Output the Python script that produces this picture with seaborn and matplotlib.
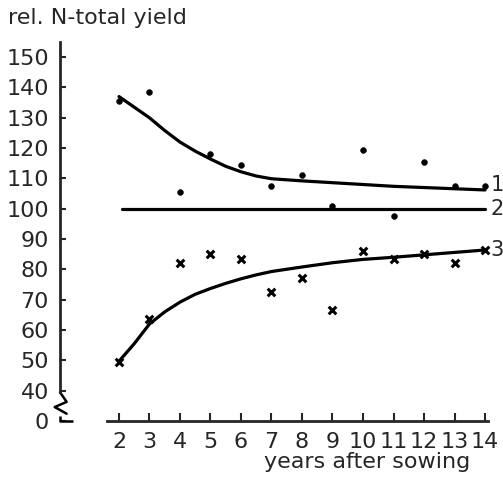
import matplotlib
matplotlib.use("Agg")
import matplotlib.pyplot as plt
import matplotlib.transforms as mtransforms
import numpy as np
import pandas as pd
import seaborn as sns

# ==========================================
# data
# ==========================================
years = [2, 3, 4, 5, 6, 7, 8, 9, 10, 11, 12, 13, 14]
dots_1 = [135.5, 138.5, 105.5, 118, 114.5, 107.5, 111, 101, 119.5, 97.5, 115.5, 107.5, 107.5]
cross_3 = [49.5, 63.5, 82, 85, 83.5, 72.5, 77, 66.5, 86, 83.5, 85, 82, 86.5]

curve_x = [2, 2.5, 3, 3.5, 4, 4.5, 5, 5.5, 6, 6.5, 7, 8, 9, 10, 11, 12, 13, 14]
curve_1 = [137, 133.5, 130, 125.8, 122, 119, 116.4, 114, 112.2, 110.8, 109.9, 109.2,
           108.6, 108, 107.4, 107, 106.6, 106.2]
curve_3 = [49.7, 55.5, 62, 66, 69.2, 71.8, 73.7, 75.4, 76.9, 78.2, 79.3, 80.8,
           82.2, 83.3, 84, 84.8, 85.6, 86.4]
ref_x = [2.1, 14]
ref_2 = [100, 100]

ytick_pos = [30, 40, 50, 60, 70, 80, 90, 100, 110, 120, 130, 140, 150]
ytick_lab = ["0", "40", "50", "60", "70", "80", "90", "100", "110", "120", "130", "140", "150"]
curve_names = ["1", "2", "3"]

# ==========================================
# style
# ==========================================
sns.set_style("ticks")
plt.rcParams['font.family'] = ['DejaVu Sans']
fs = 16

fig = plt.figure(figsize=(5.03, 4.90), dpi=100)
ax = fig.add_axes([60 / 503, 1 - 421 / 490, 443 / 503, (421 - 42) / 490])

df_dots = pd.DataFrame({"year": years, "val": dots_1})
df_cross = pd.DataFrame({"year": years, "val": cross_3})
df_c1 = pd.DataFrame({"year": curve_x, "val": curve_1})
df_c3 = pd.DataFrame({"year": curve_x, "val": curve_3})
df_ref = pd.DataFrame({"year": ref_x, "val": ref_2})

lw = 2.3
sns.lineplot(data=df_c1, x="year", y="val", color="black", lw=lw, ax=ax)
sns.lineplot(data=df_c3, x="year", y="val", color="black", lw=lw, ax=ax)
sns.lineplot(data=df_ref, x="year", y="val", color="black", lw=lw, ax=ax)
sns.scatterplot(data=df_dots, x="year", y="val", color="black", marker="o", s=18,
                edgecolor="black", ax=ax)
sns.scatterplot(data=df_cross, x="year", y="val", color="black", marker="x", s=30,
                linewidth=2.2, ax=ax)

# curve labels at right end
for name, yv in zip(curve_names, [curve_1[-1] + 1.5, ref_2[-1], curve_3[-1]]):
    ax.text(14.18, yv, name, fontsize=15, ha="left", va="center", clip_on=False)

ax.set_xlim(0.066, 14.59)
ax.set_ylim(30, 155)
ax.set_xticks(years)
ax.set_xticklabels([str(y) for y in years], fontsize=fs)
ax.set_yticks(ytick_pos)
ax.set_yticklabels(ytick_lab, fontsize=fs)
ax.tick_params(axis="y", direction="in", length=4, width=1.5, pad=8)
ax.tick_params(axis="x", direction="in", length=6, width=1.5, pad=8)
ax.set_xlabel("")
ax.set_ylabel("")

sns.despine(ax=ax)
ax.spines["left"].set_linewidth(2)
ax.spines["bottom"].set_linewidth(2)
ax.spines["left"].set_bounds(39.5, 155)
ax.spines["bottom"].set_bounds(1.6, 14.1)

# axis break on the y axis
tr = mtransforms.blended_transform_factory(ax.transAxes, ax.transData)
ax.plot([0.0, 0.015, -0.012, 0.015], [39.5, 36.3, 34.6, 32.4], color="black",
        lw=1.8, transform=tr, clip_on=False)
ax.plot([0.0, 0.0, 0.03], [31.5, 30, 30], color="black", lw=1.8,
        transform=tr, clip_on=False, solid_capstyle="butt")

fig.text(8 / 503, 1 - 18 / 490, "rel. N-total yield", fontsize=fs, ha="left", va="center")
fig.text(470 / 503, 1 - 462 / 490, "years after sowing", fontsize=fs, ha="right", va="center")

fig.savefig("out.png", dpi=100)
